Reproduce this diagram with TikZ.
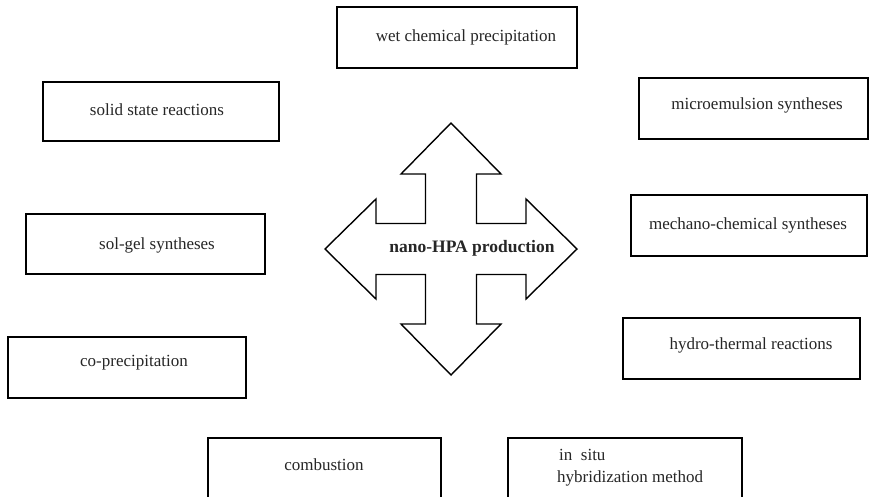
\documentclass[tikz,border=0pt]{standalone}
\usepackage{fontspec}
\setmainfont{Liberation Serif}
\begin{document}
\begin{tikzpicture}[x=1pt,y=-1pt,
  methodbox/.style={draw=black, line width=1.8pt, rectangle, inner sep=0pt, fill=white},
  lbl/.style={inner sep=0pt, font=\fontsize{17}{21}\selectfont, text=black!85},
  hub/.style={inner sep=0pt, font=\fontsize{17.5}{21}\selectfont\bfseries, text=black!85}]
\useasboundingbox (0,0) rectangle (870,496);
\begin{scope}
\clip (0,0) rectangle (870,496);

% method boxes: corner to corner
\node[methodbox, minimum width=240pt, minimum height=61pt] (wet) at (457,37.5) {};
\node[methodbox, minimum width=236pt, minimum height=59pt] (solid) at (161,111.5) {};
\node[methodbox, minimum width=229pt, minimum height=61pt] (micro) at (753.5,108.5) {};
\node[methodbox, minimum width=239pt, minimum height=60pt] (solgel) at (145.5,244) {};
\node[methodbox, minimum width=236pt, minimum height=61pt] (mech) at (749,225.5) {};
\node[methodbox, minimum width=238pt, minimum height=61pt] (coprec) at (127,367.5) {};
\node[methodbox, minimum width=237pt, minimum height=61pt] (hydro) at (741.5,348.5) {};
\node[methodbox, minimum width=233pt, minimum height=62pt] (comb) at (324.5,469) {};
\node[methodbox, minimum width=234pt, minimum height=62pt] (insitu) at (625,469) {};

% box captions
\node[lbl] (twet) at (466,37) {wet chemical precipitation};
\node[lbl] (tsolid) at (157,110) {solid state reactions};
\node[lbl] (tmicro) at (757,105) {microemulsion syntheses};
\node[lbl] (tsolgel) at (157,245) {sol-gel syntheses};
\node[lbl] (tmech) at (748,225) {mechano-chemical syntheses};
\node[lbl] (tcoprec) at (134,363) {co-precipitation};
\node[lbl] (thydro) at (751,345) {hydro-thermal reactions};
\node[lbl] (tcomb) at (324,465) {combustion};
\node[lbl, anchor=west] (tins1) at (559,455) {in\ \ situ};
\node[lbl, anchor=west] (tins2) at (557,478) {hybridization method};

% four-way arrow around the central label
\coordinate (c) at (451,249);
\draw[line width=1.4pt, line join=miter, fill=white] (c) ++(0,-126)
  -- ++(50,51) -- ++(-24.5,0) -- ++(0,49.5) -- ++(49.5,0) -- ++(0,-24.5)
  -- ++(51,50) -- ++(-51,50) -- ++(0,-24.5) -- ++(-49.5,0) -- ++(0,49.5)
  -- ++(24.5,0) -- ++(-50,51) -- ++(-50,-51) -- ++(24.5,0) -- ++(0,-49.5)
  -- ++(-49.5,0) -- ++(0,24.5) -- ++(-51,-50) -- ++(51,-50) -- ++(0,24.5)
  -- ++(49.5,0) -- ++(0,-49.5) -- ++(-24.5,0) -- cycle;
\node[hub] (hubtext) at (472,248) {nano-HPA production};
\end{scope}
\end{tikzpicture}
\end{document}
